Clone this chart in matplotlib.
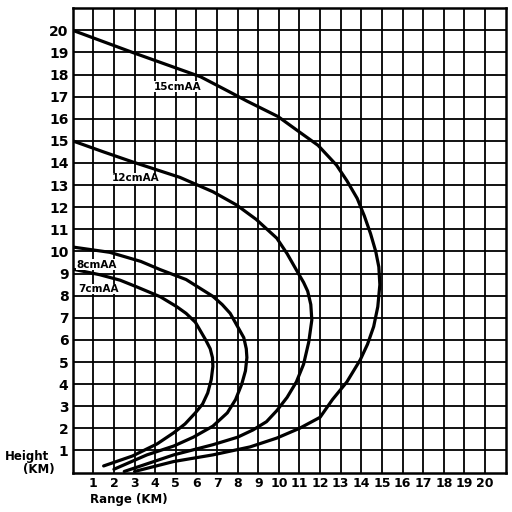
import matplotlib
matplotlib.use("Agg")
import matplotlib.pyplot as plt

# range (km) / height (km), from the low end round to the axis
range_7cm = [1.5, 2.9, 4.1, 4.9, 5.45, 5.95, 6.3, 6.55, 6.72, 6.8, 6.78, 6.67, 6.45, 6.2, 5.95, 5.5,
             5.05, 4.25, 3.1, 2.3, 1.3, 0]
height_7cm = [0.3, 0.75, 1.3, 1.8, 2.2, 2.7, 3.1, 3.6, 4.2, 4.8, 5.2, 5.6, 6.0, 6.4, 6.8, 7.2,
              7.5, 7.95, 8.4, 8.7, 8.95, 9.2]

range_8cm = [2.0, 3.6, 4.9, 5.85, 6.8, 7.5, 7.9, 8.2, 8.38, 8.45, 8.42, 8.3, 8.0, 7.64, 7.25, 6.8,
             5.5, 4.24, 3.3, 1.8, 0]
height_8cm = [0.15, 0.8, 1.2, 1.6, 2.1, 2.7, 3.3, 4.0, 4.6, 5.2, 5.6, 6.1, 6.6, 7.2, 7.6, 7.97,
              8.73, 9.18, 9.55, 9.96, 10.2]

range_12cm = [2.5, 4.9, 6.8, 8.0, 8.75, 9.4, 9.9, 10.4, 10.85, 11.2, 11.45, 11.6, 11.55, 11.4, 11.2,
              10.95, 10.4, 9.9, 8.9, 7.95, 6.8, 5.2, 2.9, 1.5, 0]
height_12cm = [0.05, 0.8, 1.26, 1.6, 1.93, 2.3, 2.8, 3.4, 4.1, 4.9, 5.9, 6.9, 7.6, 8.2, 8.6,
               9.0, 9.9, 10.6, 11.45, 12.1, 12.7, 13.35, 14.05, 14.5, 15.0]

range_15cm = [3.0, 4.9, 6.8, 8.6, 9.9, 11.0, 12.0, 12.6, 13.3, 13.95, 14.3, 14.6, 14.8, 14.9, 14.85,
              14.7, 14.45, 14.15, 13.8, 13.3, 12.8, 11.9, 11.0, 9.96, 8.45, 7.64, 6.2, 2.9, 0]
height_15cm = [0.05, 0.5, 0.8, 1.16, 1.56, 2.0, 2.5, 3.3, 4.1, 5.1, 5.8, 6.6, 7.5, 8.5, 9.3,
               10.0, 10.8, 11.6, 12.4, 13.2, 13.9, 14.8, 15.4, 16.1, 16.8, 17.2, 17.9, 19.0, 20.0]

labels = ["15cmAA", "12cmAA", "8cmAA", "7cmAA"]
label_pos = [(3.95, 17.45), (1.9, 13.3), (0.2, 9.4), (0.25, 8.3)]

ticks = list(range(1, 21))

fig = plt.figure(figsize=(5.12, 5.12), dpi=100)
ax = fig.add_axes([0.142, 0.077, 0.8455, 0.907])
ax.set_xlim(0, 21)
ax.set_ylim(0, 21)

# the graph paper
for t in ticks:
    ax.axvline(t, color="black", lw=1.3, zorder=1)
    ax.axhline(t, color="black", lw=1.3, zorder=1)
for s in ax.spines.values():
    s.set_linewidth(1.8)

for xs, ys in [(range_7cm, height_7cm), (range_8cm, height_8cm),
               (range_12cm, height_12cm), (range_15cm, height_15cm)]:
    ax.plot(xs, ys, color="black", lw=2.3, solid_joinstyle="round",
            solid_capstyle="round", zorder=3)

for name, (x, y) in zip(labels, label_pos):
    ax.text(x, y, name, fontsize=7.5, fontweight="bold", ha="left", va="center",
            zorder=4, bbox=dict(facecolor="white", edgecolor="none", pad=0.3))

ax.set_xticks(ticks)
ax.set_yticks(ticks)
ax.set_xticklabels([str(t) for t in ticks], fontsize=9, fontweight="bold")
ax.set_yticklabels([str(t) for t in ticks], fontsize=10, fontweight="bold")
ax.tick_params(length=0, pad=3)

fig.text(0.01, 0.108, "Height", fontsize=8.5, fontweight="bold", ha="left", va="center")
fig.text(0.045, 0.083, "(KM)", fontsize=8.5, fontweight="bold", ha="left", va="center")
fig.text(0.176, 0.025, "Range (KM)", fontsize=8.5, fontweight="bold", ha="left", va="center")

fig.savefig("out.png", dpi=100, facecolor="white")
